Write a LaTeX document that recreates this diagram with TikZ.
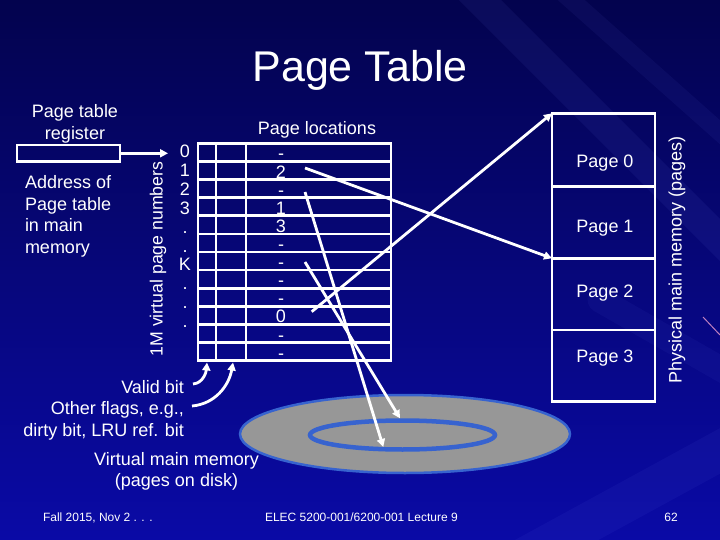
\documentclass[tikz,border=0pt]{standalone}
\usepackage{fontspec}
\setmainfont{Liberation Sans}
\usetikzlibrary{arrows.meta,shapes.geometric}
\definecolor{bgtop}{HTML}{03034E}
\definecolor{bgmid}{HTML}{07078A}
\definecolor{bgbot}{HTML}{0A0AA6}
\definecolor{diskgrey}{HTML}{979797}
\definecolor{diskblue}{HTML}{3763CF}
\definecolor{streak}{HTML}{7A86FF}
\begin{document}
\begin{tikzpicture}[x=1pt,y=-1pt,
  every node/.style={inner sep=0pt, outer sep=0pt, text=white},
  txt/.style={font=\fontsize{18}{21.5}\selectfont},
  small/.style={font=\fontsize{12}{14}\selectfont},
  wl/.style={draw=white, line width=2.6pt},
  arr/.style={draw=white, line width=2.8pt, -{Triangle[length=8pt,width=8pt]}},
  box/.style={draw=white, line width=2.6pt, minimum width=103pt}]
% background
\useasboundingbox (0,0) rectangle (720,540);
\shade[top color=bgtop, middle color=bgmid, bottom color=bgbot] (0,0) rectangle (720,540);
\begin{scope}[line cap=round]
\draw[streak, opacity=0.07, line width=30pt] (470,-10) -- (740,260);
\draw[streak, opacity=0.06, line width=18pt] (560,-10) -- (740,150);
\draw[streak, opacity=0.06, line width=40pt] (520,560) -- (740,440);
\draw[streak, opacity=0.05, line width=25pt] (600,300) -- (740,380);
\end{scope}
\draw[color=violet!50!white, line width=1pt] (703,317) -- (720,335);
% title
\node[font=\fontsize{43}{50}\selectfont, anchor=base] (title) at (360,82) {Page Table};
% register
\node[txt, align=center] (reglbl) at (75,123.6) {Page table\\register};
\node[box, minimum width=103pt, minimum height=16.7pt] (reg) at (68.5,153.3) {};
\node[txt, align=left, anchor=west] (addr) at (25,216.4) {Address of\\Page table\\in main\\memory};
\coordinate (regtip) at (168,153.3);
\draw[arr] (reg.east) -- (regtip);
% vertical label
\node[font=\fontsize{17.7}{20}\selectfont, rotate=90] (vpn) at (158,259) {1M virtual page numbers};
% page number labels
\foreach \t [count=\i from 0] in {0,1,2,3,.,.,K,.,.,.}{
  \node[txt, anchor=base] (n\i) at (185,{158+\i*18.8}) {\t};
}
% table
\node[wl, minimum width=193pt, minimum height=217.4pt] (tbl) at (294.5,252) {};
\foreach \i in {1,...,11}{
  \draw[wl] (198,{143.3+\i*18.12}) -- (391,{143.3+\i*18.12});
}
\draw[wl] (216,143.3) -- (216,360.7);
\draw[wl] (246,143.3) -- (246,360.7);
\node[txt, anchor=base] (ploc) at (317,135) {Page locations};
\foreach \t [count=\i from 0] in {-,2,-,1,3,-,-,-,-,0,-,-}{
  \node[txt, anchor=base] (v\i) at (281,{152.4+\i*18.12+7.5}) {\t};
}
% physical memory
\node[box, minimum height=73.4pt] (pm0) at (603.5,150) {};
\node[box, minimum height=71.6pt] (pm1) at (603.5,222.5) {};
\node[box, minimum height=71.7pt] (pm2) at (603.5,294.15) {};
\node[box, minimum height=71.7pt] (pm3) at (603.5,365.85) {};
\node[txt, anchor=base] (p0) at (605,167.3) {Page 0};
\node[txt, anchor=base] (p1) at (605,232.3) {Page 1};
\node[txt, anchor=base] (p2) at (605,297.3) {Page 2};
\node[txt, anchor=base] (p3) at (605,362.3) {Page 3};
\node[txt, rotate=90] (phys) at (677,259.5) {Physical main memory (pages)};
% disk
\node[ellipse, fill=diskgrey, draw=diskblue, line width=2.5pt, minimum width=330pt, minimum height=78pt] (disk) at (405,434) {};
\node[ellipse, draw=diskblue, line width=4.5pt, minimum width=185pt, minimum height=29pt] (track) at (402.5,435) {};
% mapping arrows
\coordinate (a1) at (305,168);
\coordinate (a2) at (311.7,311.7);
\coordinate (a3) at (305,192);
\coordinate (a4) at (305,262);
\coordinate (d1) at (383.3,447);
\coordinate (d2) at (400,418.3);
\draw[arr] (a1) -- (pm1.south west);
\draw[arr] (a2) -- (pm0.north west);
\draw[arr] (a3) -- (d1);
\draw[arr] (a4) -- (d2);
% flags
\node[txt, align=right, anchor=east] (flags) at (184,410) {Valid bit\\Other flags, e.g.,\\dirty bit, LRU ref. bit};
\coordinate (vb) at (193,384);
\coordinate (of) at (192,406);
\coordinate (vbt) at (207,362.5);
\coordinate (oft) at (233,362.5);
\draw[arr] (vb) to[out=5,in=-95] (vbt);
\draw[arr] (of) to[out=5,in=-100] (oft);
\node[txt, align=center] (vmm) at (176.5,471.3) {Virtual main memory\\(pages on disk)};
% footer
\node[small, anchor=base west] (f1) at (43,521.5) {Fall 2015, Nov 2 . . .};
\node[small, anchor=base west] (f2) at (265,521.5) {ELEC 5200-001/6200-001 Lecture 9};
\node[small, anchor=base] (f3) at (671,521.5) {62};
\end{tikzpicture}
\end{document}
